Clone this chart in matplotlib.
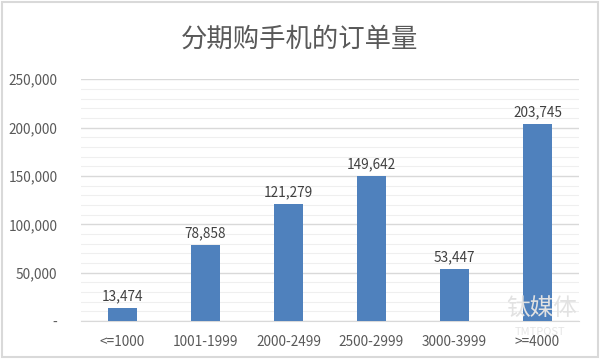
import matplotlib
matplotlib.use("Agg")
import matplotlib.pyplot as plt
from matplotlib.ticker import MultipleLocator, FuncFormatter
from matplotlib.patches import Rectangle

plt.rcParams['font.family'] = ['Noto Sans CJK SC', 'DejaVu Sans']

categories = ['<=1000', '1001-1999', '2000-2499', '2500-2999', '3000-3999', '>=4000']
orders = [13474, 78858, 121279, 149642, 53447, 203745]

fig = plt.figure(figsize=(6, 3.6), dpi=100)
ax = fig.add_axes([0.135, 0.108, 0.83, 0.672])

x = list(range(len(categories)))
bars = ax.bar(x, orders, width=0.34, color='#4F81BD', zorder=3)
for xi, v in zip(x, orders):
    ax.text(xi, v + 5000, f'{v:,}', ha='center', va='bottom',
            fontsize=9.8, color='#404040')

ax.set_xlim(-0.5, len(categories) - 0.5)
ax.set_ylim(0, 250000)
ax.yaxis.set_major_locator(MultipleLocator(50000))
ax.yaxis.set_minor_locator(MultipleLocator(10000))
ax.yaxis.set_major_formatter(FuncFormatter(lambda v, p: '-' if v == 0 else f'{int(v):,}'))
ax.grid(axis='y', which='major', color='#D9D9D9', linewidth=1, zorder=0)
ax.grid(axis='y', which='minor', color='#EFEFEF', linewidth=0.8, zorder=0)

ax.set_xticks(x)
ax.set_xticklabels(categories)
ax.tick_params(axis='both', which='both', length=0, labelsize=9.8, labelcolor='#595959')
ax.tick_params(axis='x', pad=10)
ax.tick_params(axis='y', pad=17)
for s in ['top', 'right', 'left']:
    ax.spines[s].set_visible(False)
ax.spines['bottom'].set_color('#D9D9D9')

fig.text(0.5, 0.89, '分期购手机的订单量', ha='center', va='center',
         fontsize=19, color='#595959')

# outer chart border
fig.patches.append(Rectangle((0.004, 0.008), 0.992, 0.986, transform=fig.transFigure,
                             fill=False, edgecolor='#D9D9D9', linewidth=1.5))

# watermark
fig.text(0.903, 0.144, '钛媒体', ha='center', va='center', fontsize=17,
         color='#E2E2E2', zorder=5)
fig.text(0.9, 0.078, 'TMTPOST', ha='center', va='center', fontsize=8,
         color='#E6E6E6', zorder=5)

fig.savefig('out.png', dpi=100)
